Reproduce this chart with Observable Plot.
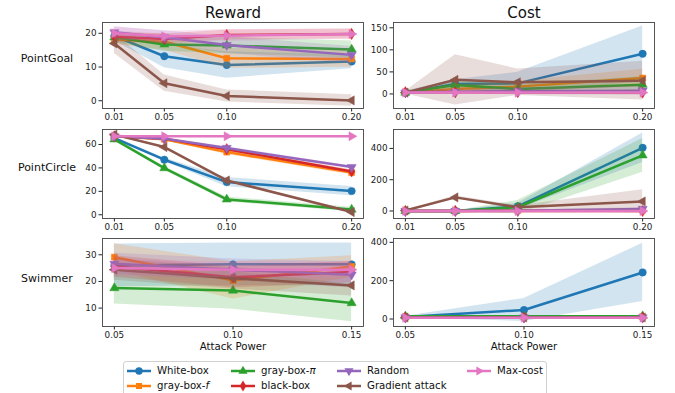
<!DOCTYPE html>
<html><head><meta charset="utf-8">
<script src="https://cdn.jsdelivr.net/npm/d3@7"></script>
<script src="https://cdn.jsdelivr.net/npm/@observablehq/plot@0.6"></script>
<style>
body{margin:0;background:#fff;font-family:"DejaVu Sans",sans-serif;}
#root{position:relative;width:675px;height:393px;overflow:hidden;background:#fff;}
.t{position:absolute;white-space:nowrap;color:#111;transform:translate(-50%,-50%);line-height:1;}
#legend{position:absolute;left:123px;top:361px;width:424px;height:40px;border:1px solid #d0d0d0;border-radius:3px;box-sizing:border-box;background:#fff;}
.le{position:absolute;font-size:10.2px;color:#111;white-space:nowrap;display:flex;align-items:center;}
.le svg{margin-right:6px;}
</style></head><body><div id="root"></div>
<script>
const series = ["White-box","gray-box-f","gray-box-π","black-box","Random","Gradient attack","Max-cost"];
const colors = ["#1f77b4","#ff7f0e","#2ca02c","#d62728","#9467bd","#8c564b","#e377c2"];
const symbols = ["circle","square","triangle","diamond","triangle","triangle","triangle"];
const rotations = [0,0,0,0,180,-90,90];

const xPoint = [0.01,0.05,0.10,0.20];
const xSwim = [0.05,0.10,0.15];

// PointGoal reward
const goalReward = [
  [19.2,13.2,10.6,11.6],[18.2,17.5,12.6,12.4],[18.8,16.7,16.4,15.2],[19.0,18.3,19.5,19.8],
  [20.3,18.8,16.5,13.6],[17.0,5.2,1.4,0.1],[20.0,19.1,19.3,19.8]];
const goalRewardSd = [
  [1.5,3.4,3.9,2.1],[1.5,2.5,3.0,2.5],[1.5,2.0,2.5,2.5],[1.5,1.5,1.5,1.5],
  [1.5,2.0,2.5,2.5],[3.0,2.4,1.8,1.7],[2.0,1.5,1.8,1.5]];
// PointGoal cost
const goalCost = [
  [3,22.7,24,91],[3,11,16.6,36],[3,20.5,11,21],[4,3.6,4,3],
  [3,5,6,7.5],[3,32,26.5,30],[3,3,3,3]];
const goalCostSd = [
  [3,10,25,63],[3,8,12,20],[3,10,10,18],[3,4,4,5],
  [3,5,8,10],[3,57,30,44],[2,2,2,2]];
// PointCircle reward
const circleReward = [
  [65.5,47,27.9,20.2],[67,64.5,53.5,36],[64.4,39.8,13.1,4.5],[67,65,56,37],
  [67,65,57,40.7],[68.4,57.8,29.3,2.3],[67,67,67,67]];
const circleRewardSd = [
  [1,1.5,4,4],[1,1,2,2],[1,1.5,2,2],[1,1,1.5,1.5],
  [1,1,1,1],[0.5,0.5,0.8,0.8],[0.5,0.5,0.5,0.5]];
// PointCircle cost
const circleCost = [
  [0,0,30,404],[0,0,3,5],[0,0,24,356],[0,0,0,0],
  [0,0,2,13],[3,87,24,61],[0,0,0,0]];
const circleCostSd = [
  [1,1,20,94],[1,1,3,4],[1,1,43,108],[1,1,1,1],
  [1,1,3,10],[2,10,10,75],[1,1,1,1]];
// Swimmer reward
const swimReward = [
  [26,26.4,26.4],[29.1,20.4,25.6],[17.5,16.6,11.9],[25.6,21.6,23.5],
  [26.6,24.4,22.5],[24.4,21.2,18.5],[25.0,24.4,24.4]];
const swimRewardSd = [
  [8,8,8],[5,7,4],[6,7,7],[4,4,4],
  [4,4,5],[4,4,4],[3,3,3]];
// Swimmer cost
const swimCost = [
  [10,47,243],[10,10,11],[14,14,15],[8,8,8],
  [8,8,8],[8,8,8],[7,7,7]];
const swimCostSd = [
  [5,60,152],[3,3,3],[3,3,3],[2,2,2],
  [2,2,2],[2,2,2],[2,2,2]];

const root = document.getElementById("root");
const FONT = '"DejaVu Sans", sans-serif';

function panel(xs, means, sds, xDomain, yDomain, yTicks, left, top, right, bottom) {
  const ML = 40, MT = 6, MR = 10, MB = 18;
  const marks = [];
  series.forEach((s, i) => {
    const d = xs.map((x, j) => ({x, m: means[i][j], lo: means[i][j] - sds[i][j], hi: means[i][j] + sds[i][j]}));
    marks.push(Plot.areaY(d, {x: "x", y1: "lo", y2: "hi", fill: colors[i], fillOpacity: 0.2}));
    marks.push(Plot.line(d, {x: "x", y: "m", stroke: colors[i], strokeWidth: 2.5}));
    marks.push(Plot.dot(d, {x: "x", y: "m", fill: colors[i], stroke: colors[i], strokeWidth: 0.5, symbol: symbols[i], r: i === 0 ? 3.7 : 3.4, rotate: rotations[i]}));
  });
  marks.push(Plot.frame({stroke: "#444", strokeWidth: 0.9}));
  const w = right - left, h = bottom - top;
  const chart = Plot.plot({
    width: w + ML + MR, height: h + MT + MB,
    marginLeft: ML, marginTop: MT, marginRight: MR, marginBottom: MB,
    x: {domain: xDomain, ticks: xs, tickFormat: ".2f", tickSize: 3.5, tickPadding: 1.5, label: null},
    y: {domain: yDomain, ticks: yTicks, tickFormat: "d", tickSize: 3.5, tickPadding: 2.5, label: null},
    style: {fontFamily: FONT, fontSize: "8.8px", color: "#222", background: "transparent", overflow: "visible"},
    marks
  });
  chart.style.position = "absolute";
  chart.style.left = (left - ML) + "px";
  chart.style.top = (top - MT) + "px";
  root.appendChild(chart);
}

const xDomP = [0.0005, 0.2095];
const xDomS = [0.045, 0.155];
panel(xPoint, goalReward, goalRewardSd, xDomP, [-2.3, 23.2], [0,10,20], 102, 22, 363, 108);
panel(xPoint, goalCost, goalCostSd, xDomP, [-33, 162], [0,50,100,150], 393, 22, 654, 108);
panel(xPoint, circleReward, circleRewardSd, xDomP, [-3.2, 72.8], [0,20,40,60], 102, 129, 363, 218);
panel(xPoint, circleCost, circleCostSd, xDomP, [-48, 521], [0,200,400], 393, 129, 654, 218);
panel(xSwim, swimReward, swimRewardSd, xDomS, [3.1, 36.1], [10,20,30], 102, 238, 363, 326);
panel(xSwim, swimCost, swimCostSd, xDomS, [-39, 420], [0,200,400], 393, 238, 654, 326);

function text(str, x, y, size) {
  const el = document.createElement("div");
  el.className = "t";
  el.style.left = x + "px"; el.style.top = y + "px"; el.style.fontSize = size + "px";
  el.innerHTML = str;
  root.appendChild(el);
}
text("Reward", 233, 12.5, 15);
text("Cost", 524, 12.5, 15);
text("PointGoal", 47, 58, 11);
text("PointCircle", 47, 166.5, 11);
text("Swimmer", 47, 277.5, 11);
text("Attack Power", 233, 347, 10.2);
text("Attack Power", 524, 347, 10.2);

// legend
const legend = document.createElement("div");
legend.id = "legend";
root.appendChild(legend);
const labelsHtml = ["White-box","gray-box-<i>f</i>","gray-box-<i>π</i>","black-box","Random","Gradient attack","Max-cost"];
const colX = [3, 107, 213, 343];
series.forEach((s, i) => {
  const col = Math.floor(i / 2), row = i % 2;
  const e = document.createElement("div");
  e.className = "le";
  e.style.left = colX[col] + "px";
  e.style.top = (2 + row * 15) + "px";
  e.style.height = "13px";
  const sym = {circle: d3.symbolCircle, square: d3.symbolSquare, triangle: d3.symbolTriangle, diamond: d3.symbolDiamond}[symbols[i]];
  const r = i === 0 ? 3.7 : 3.4;
  const path = d3.symbol(sym, Math.PI * r * r)();
  e.innerHTML = `<svg width="24" height="12"><line x1="0" x2="24" y1="6" y2="6" stroke="${colors[i]}" stroke-width="2.5"/><path d="${path}" fill="${colors[i]}" transform="translate(12,6) rotate(${rotations[i]})"/></svg><span>${labelsHtml[i]}</span>`;
  legend.appendChild(e);
});
</script></body></html>
